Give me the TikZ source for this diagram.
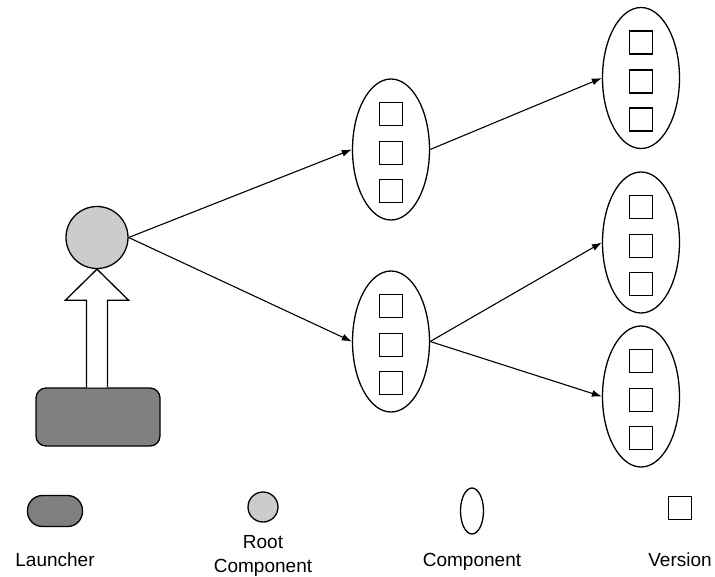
\documentclass[tikz,border=0pt]{standalone}
\usepackage{fontspec}
\setmainfont{Liberation Sans}
\usetikzlibrary{shapes.geometric,arrows.meta,calc}

\begin{document}
\begin{tikzpicture}[x=1pt,y=-1pt,
  outline/.style={draw,line width=1.3pt},
  comp/.style={outline,ellipse,minimum width=77pt,minimum height=141pt,inner sep=0pt},
  ver/.style={outline,minimum size=23pt,inner sep=0pt},
  rootc/.style={outline,circle,fill=black!20,inner sep=0pt},
  launchbox/.style={outline,fill=black!50,inner sep=0pt},
  link/.style={line width=1.1pt,-{Latex[length=10pt,width=7pt]}},
  lbl/.style={font=\fontsize{19}{22}\selectfont,inner sep=0pt,anchor=base}]
\useasboundingbox (0,0) rectangle (715,576);

% launcher and root component
\node[launchbox,rounded corners=10pt,minimum width=124pt,minimum height=58pt] (launch) at (98,417) {};
\node[rootc,minimum size=62pt] (root) at (97,237.5) {};

% hollow block arrow from the launcher up to the root
\draw[outline,fill=white]
  ($(launch.north -| root.south)+(-10.5,0)$) -- ($(root.south)+(-10.5,31)$)
  -- ($(root.south)+(-31.5,31)$) -- (root.south) -- ($(root.south)+(31.5,31)$)
  -- ($(root.south)+(10.5,31)$) -- ($(launch.north -| root.south)+(10.5,0)$);

% components
\node[comp] (c1) at (391,149.5) {};
\node[comp] (c2) at (391,341.5) {};
\node[comp] (c3) at (641,78) {};
\node[comp] (c4) at (641,242.5) {};
\node[comp] (c5) at (641,396.5) {};

% three versions inside each component
\foreach \nd in {c1,c2,c3,c4,c5}{
  \foreach \k/\dy in {1/-35.5,2/3.5,3/41.5}{
    \node[ver] (\nd v\k) at ($(\nd)+(0,\dy)$) {};
  }
}

% dependencies
\draw[link] (root.east) -- (c1.west);
\draw[link] (root.east) -- (c2.west);
\draw[link] (c1.east) -- (c3.west);
\draw[link] (c2.east) -- (c4.west);
\draw[link] (c2.east) -- (c5.west);

% legend
\node[launchbox,rounded corners=15pt,minimum width=55pt,minimum height=31pt] (lgL) at (55,511) {};
\node[lbl] (tL) at (55,566) {Launcher};
\node[rootc,minimum size=30pt] (lgR) at (263,507) {};
\node[lbl] (tR1) at (263,548) {Root};
\node[lbl] (tR2) at (263,572) {Component};
\node[outline,ellipse,minimum width=23pt,minimum height=46pt,inner sep=0pt] (lgC) at (472,511) {};
\node[lbl] (tC) at (472,566) {Component};
\node[ver] (lgV) at (680,508) {};
\node[lbl] (tV) at (680,566) {Version};
\end{tikzpicture}
\end{document}
